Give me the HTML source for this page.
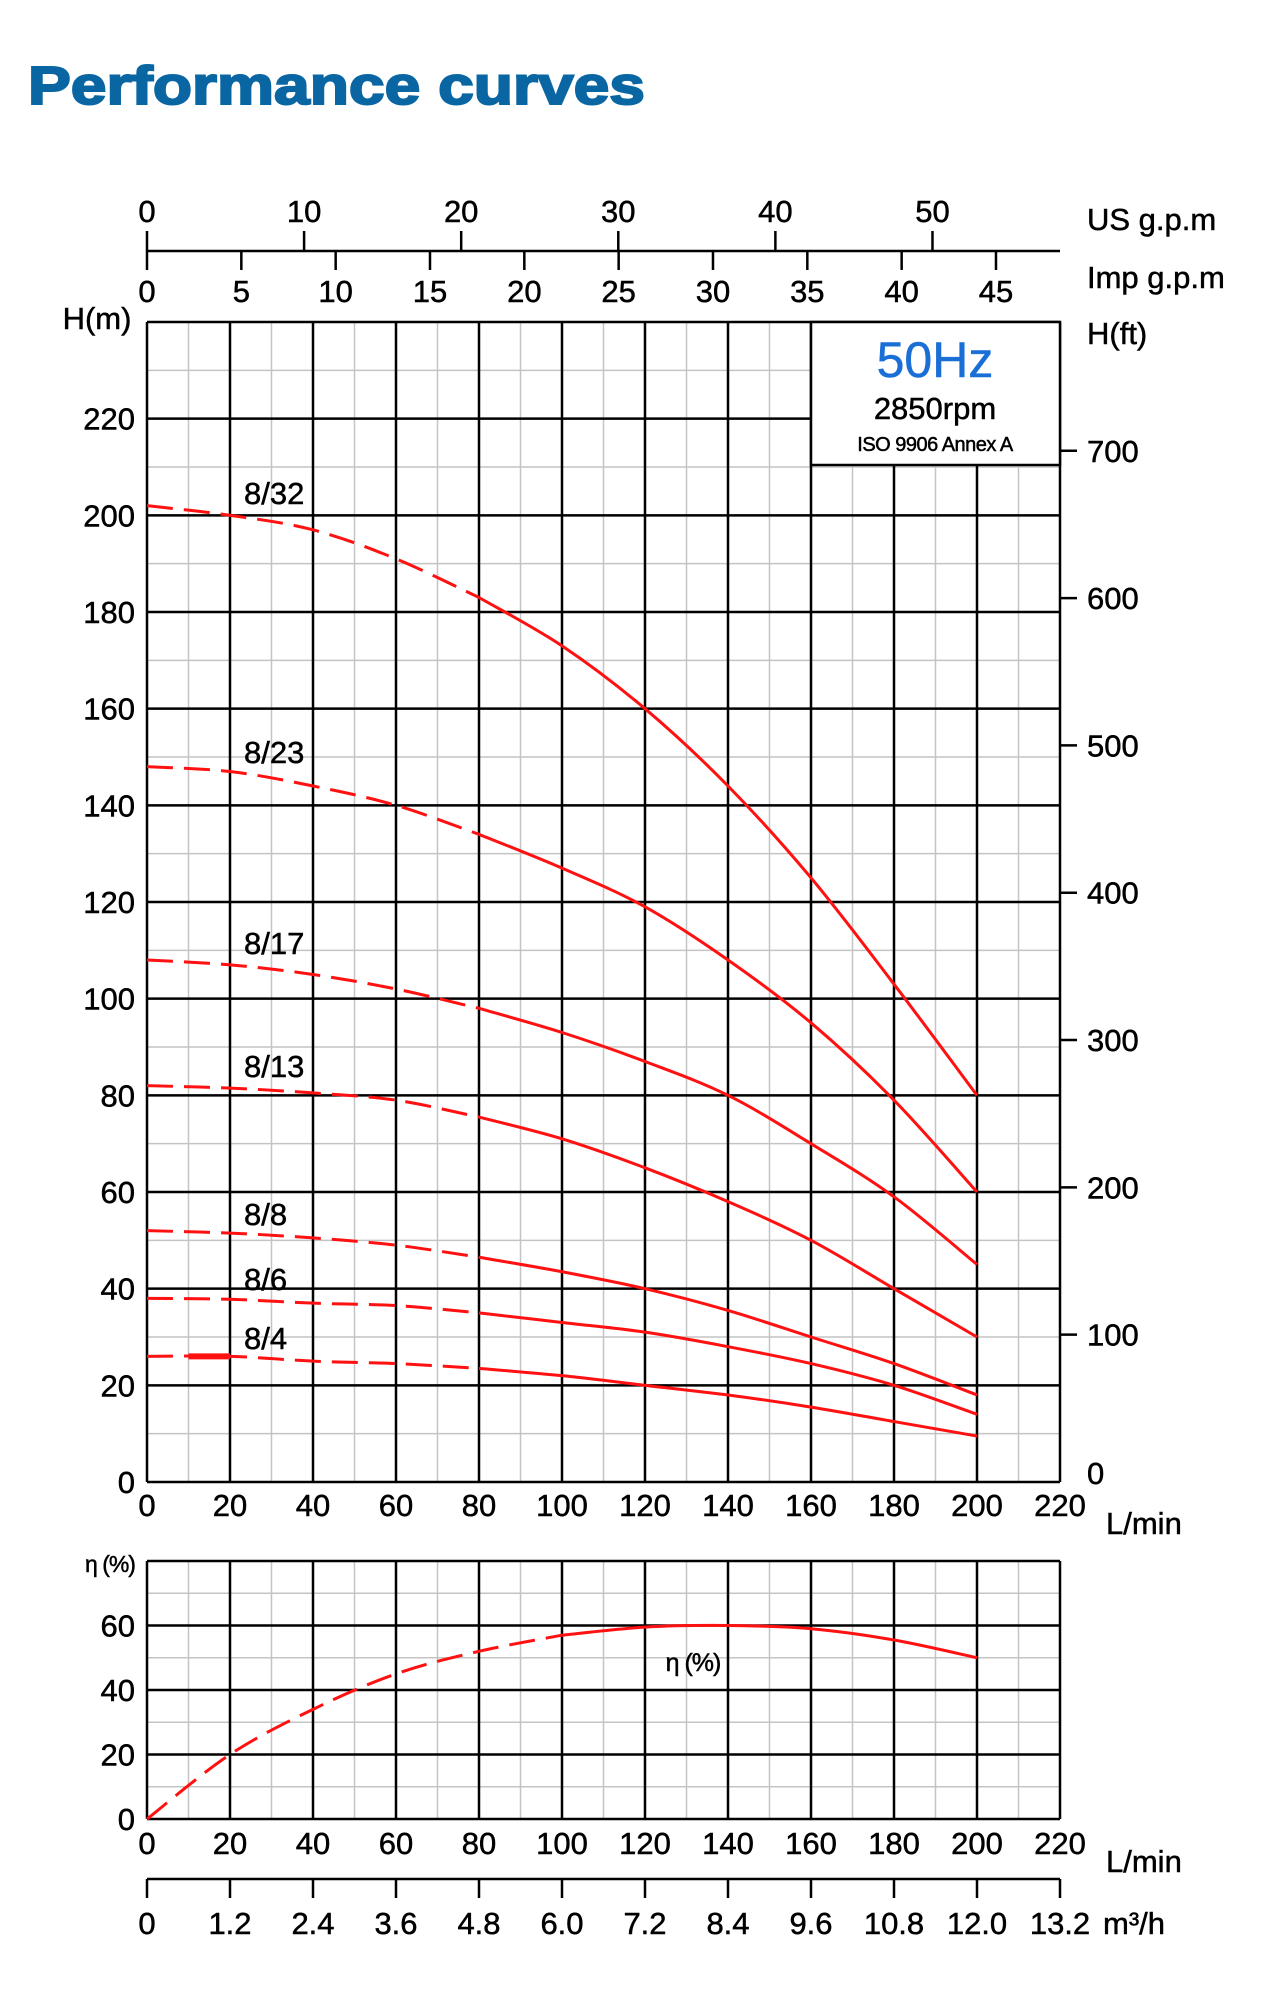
<!DOCTYPE html>
<html><head><meta charset="utf-8"><style>
html,body{margin:0;padding:0;background:#fff;}
svg{display:block;font-family:"Liberation Sans",Arial,sans-serif;}
</style></head><body>
<svg id="s" xmlns="http://www.w3.org/2000/svg" width="1273" height="1993" viewBox="0 0 1273 1993">
<text x="28" y="104" font-size="54" font-weight="bold" fill="#0a66a3" textLength="617" lengthAdjust="spacingAndGlyphs" stroke="#0a66a3" stroke-width="2">Performance curves</text>
</svg>
<script>
const s=document.getElementById('s');const NS='http://www.w3.org/2000/svg';
function el(t,a,txt){const e=document.createElementNS(NS,t);for(const k in a)e.setAttribute(k,a[k]);if(txt!==undefined)e.textContent=txt;s.appendChild(e);return e;}
const XR=1060;
const X0=147,XS=(XR-147)/220;const X=q=>X0+q*XS;
const Y0=1482,YS=(1482-322)/240;const Y=h=>Y0-h*YS;
const E0=1819,ES=(1819-1561)/80;const E=v=>E0-v*ES;
function line(x1,y1,x2,y2,c,w){el('line',{x1,y1,x2,y2,stroke:c,'stroke-width':w});}
function txt(x,y,t,fs,anchor,extra){const a=Object.assign({x,y,'font-size':fs,'text-anchor':anchor||'middle',fill:'#000',stroke:'#000','stroke-width':0.5},extra||{});el('text',a,t);}
for(let q=10;q<220;q+=20)line(X(q),322,X(q),Y0,'#c4c4c4',1.5);
for(let h=10;h<240;h+=20)line(X0,Y(h),XR,Y(h),'#c4c4c4',1.5);
for(let q=0;q<=220;q+=20)line(X(q),322,X(q),Y0,'#000',2.5);
for(let h=0;h<=240;h+=20)line(X0,Y(h),XR,Y(h),'#000',2.5);
el('rect',{x:811,y:322,width:XR-811,height:143,fill:'#fff',stroke:'#000','stroke-width':2.5});
txt(935,377,'50Hz',50,'middle',{fill:'#1a6fd6',stroke:'#1a6fd6','stroke-width':0.5});
txt(935,419,'2850rpm',31);
txt(935,451,'ISO 9906 Annex A',20,'middle',{'letter-spacing':'-0.5'});
for(let h=0;h<=220;h+=20)txt(135,Y(h)+11,String(h),31,'end');
txt(97,329,'H(m)',31);
for(let f=100;f<=700;f+=100){const y=Y(f*0.3048);line(XR,y,1077,y,'#000',2.5);txt(1087,y+11,String(f),31,'start');}
txt(1087,1484,'0',31,'start');
txt(1087,344,'H(ft)',31,'start');
for(let q=0;q<=220;q+=20)txt(X(q),1516,String(q),31);
txt(1106,1534,'L/min',31,'start');
line(X0,251,XR,251,'#000',2.5);
line(X0,231,X0,270,'#000',2.5);
for(let g=10;g<=50;g+=10){const x=X(g*3.78541);line(x,231,x,251,'#000',2.5);}
for(let g=5;g<=45;g+=5){const x=X(g*4.54609);line(x,251,x,270,'#000',2.5);}
for(let g=0;g<=50;g+=10)txt(X(g*3.78541),222,String(g),31);
for(let g=0;g<=45;g+=5)txt(X(g*4.54609),302,String(g),31);
txt(1087,230,'US g.p.m',31,'start');
txt(1087,288,'Imp g.p.m',31,'start');
const Q=[0,20,40,60,80,100,120,140,160,180,200];
const C={
'8/32':[202,200,197,191,183,173,160,144,125,103,80],
'8/23':[148,147,144,140,134,127,119,108,95,79,60],
'8/17':[108,107,105,102,98,93,87,80,70,59,45],
'8/13':[82,81.5,80.5,79,75.5,71,65,58,50,40,30],
'8/8':[52,51.5,50.5,49,46.5,43.5,40,35.5,30,24.5,18],
'8/6':[38,37.8,37,36.5,35,33,31,28,24.5,20,14],
'8/4':[26,26,25,24.5,23.5,22,20,18,15.5,12.5,9.5]};
const LY={'8/32':493,'8/23':752,'8/17':943,'8/13':1066,'8/8':1214,'8/6':1279,'8/4':1338};
function spline(pts){let d='M'+pts[0][0]+','+pts[0][1];for(let i=0;i<pts.length-1;i++){const p0=pts[Math.max(i-1,0)],p1=pts[i],p2=pts[i+1],p3=pts[Math.min(i+2,pts.length-1)];
const c1=[p1[0]+(p2[0]-p0[0])/6,p1[1]+(p2[1]-p0[1])/6],c2=[p2[0]-(p3[0]-p1[0])/6,p2[1]-(p3[1]-p1[1])/6];d+=' C'+c1+' '+c2+' '+p2;}return d;}
function curve(pts,split){const a=pts.slice(0,split+1),b=pts.slice(split);
el('path',{d:spline(a),fill:'none',stroke:'#ff1111','stroke-width':3,'stroke-dasharray':'26 11'});
el('path',{d:spline(b),fill:'none',stroke:'#ff1111','stroke-width':3});}
for(const k in C){const pts=Q.map((q,i)=>[X(q),Y(C[k][i])]);curve(pts,4);
txt(244,LY[k]+11,k,31,'start');}
el('line',{x1:X(10),y1:Y(26),x2:X(20),y2:Y(26),stroke:'#ff1111','stroke-width':6});
for(let q=10;q<220;q+=20)line(X(q),1561,X(q),E0,'#c4c4c4',1.5);
for(let v=10;v<80;v+=20)line(X0,E(v),XR,E(v),'#c4c4c4',1.5);
for(let q=0;q<=220;q+=20)line(X(q),1561,X(q),E0,'#000',2.5);
for(let v=0;v<=80;v+=20)line(X0,E(v),XR,E(v),'#000',2.5);
for(let v=0;v<=60;v+=20)txt(135,E(v)+11,String(v),31,'end');
txt(110,1572,'η (%)',23,'middle',{'letter-spacing':'-1'});
const EV=[0,20,34,45,52,57,59.5,60,59,55.5,50];
const ep=Q.map((q,i)=>[X(q),E(EV[i])]);curve(ep,5);
txt(693,1671,'η (%)',25,'middle',{'letter-spacing':'-1'});
for(let q=0;q<=220;q+=20)txt(X(q),1854,String(q),31);
txt(1106,1872,'L/min',31,'start');
line(X0,1879,XR,1879,'#000',2.5);
const M=['0','1.2','2.4','3.6','4.8','6.0','7.2','8.4','9.6','10.8','12.0','13.2'];
M.forEach((m,i)=>{const x=X(i*20);line(x,1879,x,1898,'#000',2.5);txt(x,1934,m,31);});
txt(1103,1934,'m³/h',31,'start');
</script>
</body></html>
